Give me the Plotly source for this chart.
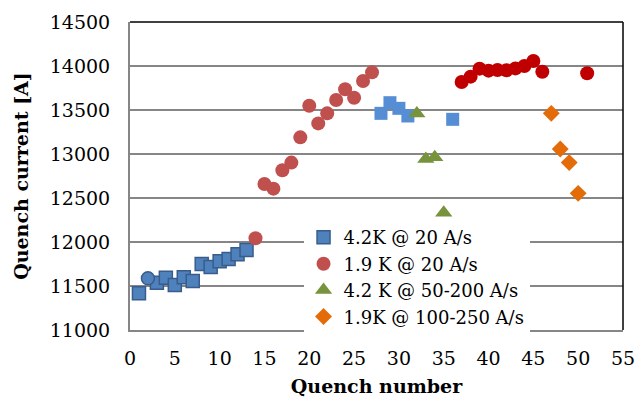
import plotly.graph_objects as go

# 4.2K @ 20 A/s (first run, outlined squares)
blue_x = [1, 3, 4, 5, 6, 7, 8, 9, 10, 11, 12, 13]
blue_y = [11417, 11538, 11594, 11511, 11599, 11557, 11750, 11716, 11780, 11807, 11860, 11909]
# odd point drawn as circle in the same series colour
blue_circ_x = [2]
blue_circ_y = [11587]
# 4.2K @ 20 A/s (later, plain squares)
blue2_x = [28, 29, 30, 31, 36]
blue2_y = [13462, 13583, 13519, 13432, 13394]
# 1.9 K @ 20 A/s
red_x = [14, 15, 16, 17, 18, 19, 20, 21, 22, 23, 24, 25, 26, 27]
red_y = [12042, 12659, 12606, 12815, 12902, 13189, 13549, 13348, 13462, 13614, 13735, 13640, 13830, 13928]
red2_x = [37, 38, 39, 40, 41, 42, 43, 44, 45, 46, 51]
red2_y = [13818, 13879, 13970, 13947, 13955, 13951, 13973, 14000, 14057, 13935, 13917]
# 4.2 K @ 50-200 A/s
green_x = [32, 33, 34, 35]
green_y = [13460, 12943, 12962, 12333]
# 1.9K @ 100-250 A/s
orange_x = [47, 48, 49, 50]
orange_y = [13462, 13057, 12902, 12553]

x_ticks = list(range(0, 56, 5))
y_ticks = list(range(11000, 14501, 500))
y_tick_text = [str(v) for v in y_ticks]

FONT = "DejaVu Serif"

fig = go.Figure()
fig.add_trace(go.Scatter(x=blue_x, y=blue_y, mode="markers", name="4.2K @ 20 A/s",
                         marker=dict(symbol="square", size=13, color="#4F81BD",
                                     line=dict(color="#385D8A", width=1.5))))
fig.add_trace(go.Scatter(x=blue_circ_x, y=blue_circ_y, mode="markers", showlegend=False,
                         marker=dict(symbol="circle", size=13, color="#4F81BD",
                                     line=dict(color="#385D8A", width=1.5))))
fig.add_trace(go.Scatter(x=blue2_x, y=blue2_y, mode="markers", showlegend=False,
                         marker=dict(symbol="square", size=13, color="#558ED5")))
fig.add_trace(go.Scatter(x=red_x, y=red_y, mode="markers", name="1.9 K @ 20 A/s",
                         marker=dict(symbol="circle", size=14, color="#C0504D")))
fig.add_trace(go.Scatter(x=red2_x, y=red2_y, mode="markers", showlegend=False,
                         marker=dict(symbol="circle", size=14, color="#C00000")))
fig.add_trace(go.Scatter(x=green_x, y=green_y, mode="markers", name="4.2 K @ 50-200 A/s",
                         marker=dict(symbol="triangle-up", size=15, color="#77933C")))
fig.add_trace(go.Scatter(x=orange_x, y=orange_y, mode="markers", name="1.9K @ 100-250 A/s",
                         marker=dict(symbol="diamond", size=13, color="#E36C09")))

# page body has an 8px default margin, so the figure is drawn 8px smaller and margins shifted
fig.update_layout(
    width=636, height=393,
    margin=dict(l=122, r=21, t=14, b=71),
    paper_bgcolor="white", plot_bgcolor="white",
    font=dict(family=FONT, size=18, color="black"),
    showlegend=True,
    legend=dict(x=0.352, y=0.36, xanchor="left", yanchor="top",
                bgcolor="white", borderwidth=0,
                font=dict(family=FONT, size=18, color="black"),
                itemwidth=30, tracegroupgap=0),
    shapes=[
        dict(type="line", xref="paper", yref="paper", x0=0, x1=1, y0=1, y1=1,
             line=dict(color="black", width=1.5)),
        dict(type="line", xref="paper", yref="paper", x0=1, x1=1, y0=0, y1=1,
             line=dict(color="black", width=1.5)),
    ],
)
fig.update_xaxes(range=[0, 55], tickvals=x_ticks, showgrid=False, zeroline=False,
                 showline=True, linecolor="#868686", linewidth=2, automargin=False,
                 ticks="", ticklabelstandoff=10, tickfont=dict(size=19),
                 title=dict(text="<b>Quench number</b>", font=dict(family=FONT, size=19), standoff=12))
fig.update_yaxes(range=[11000, 14500], tickvals=y_ticks, ticktext=y_tick_text, showgrid=True,
                 gridcolor="#868686", gridwidth=1.5, zeroline=False, automargin=False,
                 showline=True, linecolor="#868686", linewidth=2,
                 ticks="", ticklabelstandoff=14, tickfont=dict(size=19),
                 title=dict(text="<b>Quench current [A]</b>", font=dict(family=FONT, size=19), standoff=16))

fig.write_html("out.html")
